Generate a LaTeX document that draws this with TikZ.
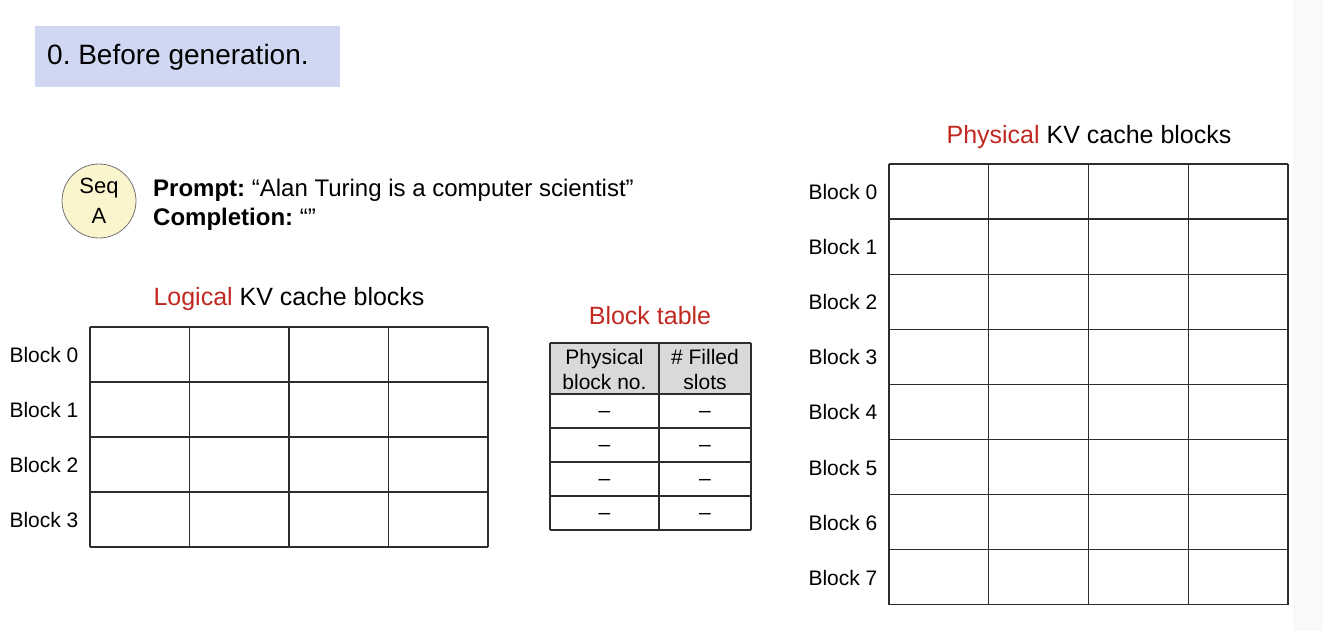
\documentclass[tikz,border=0pt]{standalone}
\usepackage{fontspec}
\setmainfont{Liberation Sans}
\frenchspacing
\definecolor{titlebg}{RGB}{208,215,243}
\definecolor{seqfill}{RGB}{251,245,206}
\definecolor{hdrgray}{RGB}{217,217,217}
\definecolor{redlbl}{RGB}{192,40,32}
\definecolor{stripgray}{RGB}{249,249,249}
\definecolor{gridline}{RGB}{45,45,45}
\begin{document}
\begin{tikzpicture}[x=1pt,y=-1pt,
  gl/.style={draw=gridline, line width=1.3pt},
  lbl/.style={inner sep=0pt, font=\fontsize{21}{25}\selectfont},
  sect/.style={inner sep=0pt, font=\fontsize{25}{30}\selectfont},
  cell/.style={inner sep=0pt, font=\fontsize{21}{25}\selectfont, align=center}]
\useasboundingbox (0,0) rectangle (1323,631);
\fill[white] (0,0) rectangle (1323,631);
\fill[stripgray] (1293,0) rectangle (1323,631);

% title
\node[fill=titlebg, minimum width=305pt, minimum height=61pt, inner sep=0pt, anchor=north west] (titlebox) at (35,26) {};
\node[anchor=west, inner sep=0pt, font=\fontsize{28}{32}\selectfont] (title) at (47,57) {0. Before generation.};

% sequence
\node[circle, draw=black!55, line width=0.8pt, fill=seqfill, minimum size=74pt, inner sep=0pt, align=center,
  font=\fontsize{22}{30}\selectfont] (seq) at (99,201) {Seq\\A};
\node[anchor=west, inner sep=0pt, font=\fontsize{24}{28}\selectfont] (prompt) at (153,190)
  {\textbf{Prompt:} “Alan Turing is a computer scientist”};
\node[anchor=west, inner sep=0pt, font=\fontsize{24}{28}\selectfont] (compl) at (153,219)
  {\textbf{Completion:} “”};

% logical blocks
\node[sect] (logtitle) at (289,299) {\textcolor{redlbl}{Logical} KV cache blocks};
\foreach \i in {0,...,4} {\draw[gl] (90,327+55*\i) -- (488,327+55*\i);}
\foreach \j in {0,...,4} {\draw[gl] (90+99.5*\j,327) -- (90+99.5*\j,547);}
\foreach \i in {0,...,3} {\node[lbl] (lb\i) at (44,355+55*\i) {Block \i};}

% block table
\node[sect] (bttitle) at (650,316) {\textcolor{redlbl}{Block table}};
\fill[hdrgray] (550,343) rectangle (751,394);
\foreach \y in {343,394,428,462,496,530} {\draw[gl] (550,\y) -- (751,\y);}
\foreach \x in {550,659,751} {\draw[gl] (\x,343) -- (\x,530);}
\node[cell] (h1) at (604.5,369) {Physical\\block no.};
\node[cell] (h2) at (705,369) {\# Filled\\slots};
\foreach \i in {0,...,3} {
  \node[cell] (pa\i) at (604.5,414+34*\i) {–};
  \node[cell] (pb\i) at (705,414+34*\i) {–};
}

% physical blocks
\node[sect] (phystitle) at (1089,137) {\textcolor{redlbl}{Physical} KV cache blocks};
\foreach \i in {0,...,8} {\draw[gl] (889,164+55.1*\i) -- (1288,164+55.1*\i);}
\foreach \j in {0,...,4} {\draw[gl] (889+99.75*\j,164) -- (889+99.75*\j,604.8);}
\foreach \i in {0,...,7} {\node[lbl] (pk\i) at (843,192+55.1*\i) {Block \i};}
\end{tikzpicture}
\end{document}
